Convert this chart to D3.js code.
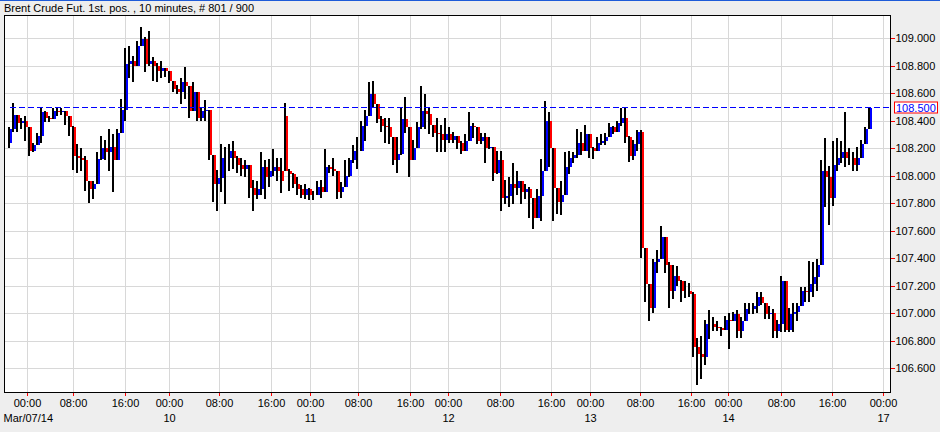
<!DOCTYPE html>
<html><head><meta charset="utf-8">
<script src="https://cdn.jsdelivr.net/npm/d3@7"></script>
<style>
html,body{margin:0;padding:0;background:#eeeeee;}
svg{display:block;font-family:"Liberation Sans",Arial,sans-serif;}
</style></head><body>
<svg id="c" width="940" height="432"></svg>
<script>
const title = "Brent Crude Fut. 1st. pos. , 10 minutes, # 801 / 900";

const openP = [
108.25,108.35,108.45,108.39,108.41,108.36,108.19,108.23,108.30,108.47,
108.43,108.42,108.48,108.47,108.48,108.44,108.36,108.15,108.14,108.12,
107.97,107.91,107.95,108.13,108.21,108.18,108.22,108.12,108.32,108.49,
108.82,108.84,108.81,108.95,109.00,108.82,108.84,108.81,108.77,108.79,
108.77,108.70,108.64,108.62,108.69,108.66,108.48,108.62,108.43,108.48,
108.49,108.16,107.95,107.99,108.14,108.14,108.19,108.14,108.09,108.06,
108.09,107.92,107.87,107.91,108.07,108.00,108.04,108.07,108.04,108.44,
108.04,108.02,107.95,107.91,107.87,107.91,107.87,107.87,107.93,107.89,
108.07,108.06,108.04,107.89,107.93,108.01,108.12,108.19,108.19,108.37,
108.44,108.60,108.53,108.42,108.37,108.36,108.29,108.12,108.17,108.42,
108.36,108.12,108.21,108.36,108.48,108.46,108.38,108.32,108.31,108.27,
108.31,108.27,108.30,108.25,108.19,108.26,108.37,108.36,108.26,108.29,
108.21,108.22,108.03,108.12,107.85,107.86,107.95,107.92,107.97,107.89,
107.91,107.85,107.70,107.86,108.04,108.41,108.21,107.92,107.82,107.87,
108.07,108.14,108.16,108.25,108.19,108.31,108.21,108.19,108.25,108.26,
108.29,108.36,108.33,108.39,108.43,108.29,108.15,108.24,108.33,107.48,
107.22,107.05,107.38,107.40,107.56,107.36,107.17,107.28,107.24,107.17,
107.17,107.15,106.76,106.71,106.69,106.93,106.93,106.91,106.90,106.89,
106.96,106.95,107.00,106.88,106.95,107.04,107.04,107.06,107.13,107.08,
107.00,107.01,106.88,106.93,107.24,106.89,107.00,107.02,107.06,107.17,
107.16,107.22,107.27,107.36,108.04,108.00,107.85,108.09,108.14,108.18,
108.14,108.14,108.09,108.14,108.24,108.35
];
const highP = [
108.36,108.54,108.44,108.43,108.44,108.30,108.25,108.32,108.50,108.48,
108.44,108.50,108.50,108.50,108.48,108.41,108.37,108.24,108.21,108.15,
107.97,107.97,108.18,108.30,108.27,108.35,108.31,108.35,108.57,108.94,
108.95,108.88,108.99,109.09,109.02,109.06,108.87,108.83,108.84,108.78,
108.77,108.69,108.67,108.72,108.80,108.59,108.69,108.55,108.50,108.56,
108.49,108.16,108.05,108.24,108.22,108.24,108.26,108.15,108.14,108.12,
108.07,107.98,107.97,108.18,108.12,108.13,108.20,108.14,108.14,108.54,
108.06,108.03,108.00,107.94,107.95,107.92,107.90,107.97,107.98,108.20,
108.09,108.14,108.04,107.96,108.12,108.14,108.23,108.29,108.41,108.49,
108.69,108.70,108.52,108.44,108.43,108.43,108.21,108.29,108.50,108.58,
108.36,108.27,108.40,108.66,108.60,108.50,108.38,108.43,108.38,108.43,
108.36,108.33,108.29,108.26,108.31,108.47,108.39,108.32,108.32,108.32,
108.29,108.09,108.19,108.19,107.98,108.00,108.10,108.04,107.97,107.95,
107.93,107.78,107.91,108.13,108.55,108.47,108.21,107.92,107.97,108.18,
108.19,108.18,108.35,108.33,108.38,108.29,108.22,108.29,108.31,108.32,
108.39,108.37,108.41,108.50,108.51,108.30,108.27,108.34,108.34,107.47,
107.17,107.40,107.47,107.64,107.48,107.38,107.36,107.35,107.25,107.24,
107.23,107.16,106.83,106.84,106.96,107.03,106.98,106.95,106.91,106.99,
107.01,107.02,107.03,106.98,107.08,107.08,107.08,107.16,107.16,107.08,
107.06,107.04,106.96,107.28,107.24,107.05,107.08,107.08,107.20,107.20,
107.39,107.38,107.40,108.12,108.28,108.08,108.26,108.28,108.26,108.47,
108.21,108.18,108.22,108.27,108.36,108.50
];
const lowP = [
108.21,108.33,108.33,108.35,108.26,108.15,108.18,108.23,108.25,108.40,
108.40,108.44,108.44,108.45,108.38,108.30,108.05,108.03,108.04,107.90,
107.81,107.84,107.98,108.12,108.12,108.04,107.89,108.28,108.32,108.41,
108.72,108.69,108.82,108.95,108.76,108.81,108.70,108.69,108.72,108.73,
108.68,108.62,108.60,108.53,108.57,108.43,108.50,108.41,108.41,108.41,
108.12,107.82,107.75,107.89,107.80,108.04,108.06,108.03,108.01,108.00,
107.85,107.75,107.84,107.87,107.84,107.93,108.01,107.97,107.88,108.04,
107.90,107.92,107.87,107.85,107.84,107.83,107.83,107.88,107.85,107.95,
108.03,108.01,107.84,107.85,107.94,108.00,108.10,108.06,108.21,108.26,
108.45,108.50,108.39,108.33,108.25,108.24,108.09,108.03,108.16,108.32,
108.00,108.12,108.26,108.35,108.35,108.31,108.29,108.18,108.18,108.18,
108.25,108.25,108.20,108.17,108.20,108.33,108.28,108.24,108.24,108.10,
108.20,107.97,108.02,107.75,107.80,107.78,107.80,107.87,107.80,107.84,
107.70,107.62,107.73,107.68,108.10,108.07,107.68,107.73,107.72,107.87,
108.02,108.10,108.14,108.16,108.23,108.14,108.13,108.22,108.23,108.23,
108.29,108.31,108.35,108.37,108.25,108.11,108.12,108.19,107.41,107.09,
106.95,107.01,107.30,107.41,107.30,107.05,107.11,107.21,107.09,107.12,
107.13,106.69,106.49,106.53,106.63,106.82,106.88,106.88,106.84,106.90,
106.75,106.95,106.83,106.83,106.97,107.00,107.00,107.01,107.07,106.97,
106.97,106.83,106.83,106.87,106.87,106.87,106.87,106.95,107.06,107.09,
107.09,107.13,107.17,107.45,107.78,107.65,107.79,108.04,108.10,108.07,
108.09,108.04,108.04,108.18,108.26,108.38
];
const closeP = [
108.35,108.45,108.39,108.41,108.36,108.19,108.23,108.30,108.47,108.43,
108.42,108.48,108.47,108.48,108.44,108.36,108.15,108.14,108.12,107.97,
107.91,107.95,108.13,108.21,108.18,108.22,108.12,108.32,108.49,108.82,
108.84,108.81,108.95,109.00,108.82,108.84,108.81,108.77,108.79,108.77,
108.70,108.64,108.62,108.69,108.66,108.48,108.62,108.43,108.48,108.49,
108.16,107.95,107.99,108.14,108.14,108.19,108.14,108.09,108.06,108.09,
107.92,107.87,107.91,108.07,108.00,108.04,108.07,108.04,107.97,108.04,
108.02,107.95,107.91,107.87,107.91,107.87,107.87,107.93,107.89,108.07,
108.06,108.04,107.89,107.93,108.01,108.12,108.19,108.19,108.37,108.44,
108.60,108.53,108.42,108.37,108.36,108.29,108.12,108.17,108.42,108.36,
108.12,108.21,108.36,108.48,108.46,108.38,108.32,108.31,108.27,108.31,
108.27,108.30,108.25,108.19,108.26,108.37,108.36,108.26,108.29,108.21,
108.22,108.03,108.12,107.85,107.86,107.95,107.92,107.97,107.89,107.91,
107.85,107.70,107.86,108.04,108.41,108.21,107.92,107.82,107.87,108.07,
108.14,108.16,108.25,108.19,108.31,108.21,108.19,108.25,108.26,108.29,
108.36,108.33,108.39,108.43,108.29,108.15,108.24,108.33,107.48,107.22,
107.05,107.38,107.40,107.56,107.36,107.17,107.28,107.24,107.17,107.17,
107.15,106.76,106.71,106.69,106.93,106.93,106.91,106.90,106.89,106.96,
106.95,107.00,106.88,106.95,107.04,107.04,107.06,107.13,107.08,107.00,
107.01,106.88,106.93,107.24,106.89,107.00,107.02,107.06,107.17,107.16,
107.22,107.27,107.36,108.04,108.00,107.85,108.09,108.14,108.18,108.14,
108.14,108.09,108.14,108.24,108.35,108.50
];

// x-axis ticks, positioned in bar-index units
const timeTickIndex = [4.58,16,29.08,39.93,52.58,65.38,75.13,87.13,100.18,109.83,122.68,135.58,145.25,157.68,170.58,179.83,192.88,205.63,218.58];
const timeTickLabels = ["00:00","08:00","16:00","00:00","08:00","16:00","00:00","08:00","16:00","00:00","08:00","16:00","00:00","08:00","16:00","00:00","08:00","16:00","00:00"];
const dateTickPos = [3,6,9,12,15,18];
const dateTickLabels = ["10","11","12","13","14","17"];
const firstDateLabel = "Mar/07/14";
const priceTicks = [106.6,106.8,107.0,107.2,107.4,107.6,107.8,108.0,108.2,108.4,108.6,108.8,109.0];
const lastPrice = 108.50;

const W = 940, H = 432;
const P = {l:4.5, r:890.5, t:15.5, b:392.5};
const N = closeP.length;
const svg = d3.select("#c");

svg.append("rect").attr("width",W).attr("height",H).attr("fill","#eeeeee");
svg.append("rect").attr("x",0).attr("y",0).attr("width",W).attr("height",1).attr("fill","#1e5bd8");
svg.append("text").attr("x",4).attr("y",12).attr("font-size","11px").attr("fill","#000").text(title);

const x = d3.scaleLinear().domain([0, N-1]).range([10, 870]);
const y = d3.scaleLinear().domain([106.4327, 109.1745]).range([392.5, 15.5]);

svg.append("rect").attr("x",P.l).attr("y",P.t).attr("width",P.r-P.l).attr("height",P.b-P.t).attr("fill","#ffffff");

const snap = v => Math.floor(v - 0.5) + 0.5;
const grid = svg.append("g").attr("stroke","#d8d8d8").attr("stroke-width",1);
grid.selectAll("line.h").data(priceTicks).join("line").attr("class","h")
  .attr("x1",P.l).attr("x2",P.r).attr("y1",d=>snap(y(d))).attr("y2",d=>snap(y(d)));
grid.selectAll("line.v").data(timeTickIndex).join("line").attr("class","v")
  .attr("y1",P.t).attr("y2",P.b).attr("x1",d=>snap(x(d))).attr("x2",d=>snap(x(d)));

const bars = d3.range(N).map(i => ({i, o:openP[i], h:highP[i], l:lowP[i], c:closeP[i]}));
const g = svg.append("g").attr("shape-rendering","crispEdges");
g.selectAll("rect.w").data(bars).join("rect").attr("class","w")
  .attr("x", d => Math.round(x(d.i)) - 2).attr("width", 2)
  .attr("y", d => y(Math.max(d.h, d.o, d.c)))
  .attr("height", d => Math.max(1, y(Math.min(d.l, d.o, d.c)) - y(Math.max(d.h, d.o, d.c))))
  .attr("fill", "#000");
g.selectAll("rect.b").data(bars.filter(d => d.o !== d.c)).join("rect").attr("class","b")
  .attr("x", d => Math.round(x(d.i))).attr("width", 2)
  .attr("y", d => y(Math.max(d.o, d.c)))
  .attr("height", d => Math.max(1, Math.abs(y(d.o) - y(d.c))))
  .attr("fill", d => d.c > d.o ? "#0000ff" : "#ff0000");

// last price dashed line
svg.append("line").attr("x1",x(0)).attr("x2",P.r).attr("y1",snap(y(lastPrice))).attr("y2",snap(y(lastPrice)))
  .attr("stroke","#0000ff").attr("stroke-width",1).attr("stroke-dasharray","6,3");

// border
svg.append("rect").attr("x",P.l).attr("y",P.t).attr("width",P.r-P.l).attr("height",P.b-P.t)
  .attr("fill","none").attr("stroke","#000").attr("stroke-width",1);

// right axis
const ya = svg.append("g").attr("transform",`translate(${P.r},0)`)
  .call(d3.axisRight(y).tickValues(priceTicks).tickSize(4).tickPadding(1).tickFormat(d3.format(".3f")));
ya.select(".domain").remove();
ya.selectAll(".tick line").attr("stroke","#ff0000").attr("shape-rendering","crispEdges");
ya.selectAll(".tick").attr("transform", d => `translate(0,${snap(y(d))})`);
ya.selectAll(".tick text").attr("font-size","11px").attr("font-family","Liberation Sans, Arial, sans-serif").attr("fill","#000").attr("dy","0.36em").attr("x",5);

// last price label
const ly = snap(y(lastPrice));
svg.append("rect").attr("x",894.5).attr("y",ly-5.5).attr("width",43).attr("height",11)
  .attr("fill","#ffffff").attr("stroke","#ff0000").attr("stroke-width",1);
svg.append("text").attr("x",896).attr("y",ly+4).attr("font-size","11px").attr("fill","#0000ff").text(d3.format(".3f")(lastPrice));

// bottom axis
const xa = svg.append("g").attr("transform",`translate(0,${P.b})`)
  .call(d3.axisBottom(x).tickValues(timeTickIndex).tickSize(3.5).tickPadding(3).tickFormat((d,i)=>timeTickLabels[i]));
xa.select(".domain").remove();
xa.selectAll(".tick").attr("transform", d => `translate(${snap(x(d))},0)`);
xa.selectAll(".tick line").attr("stroke","#ff0000").attr("shape-rendering","crispEdges");
xa.selectAll(".tick text").attr("font-size","11px").attr("font-family","Liberation Sans, Arial, sans-serif").attr("fill","#000").attr("dy",null).attr("y",14.5);

svg.append("text").attr("x",3.5).attr("y",421.5).attr("font-size","11px").attr("fill","#000").text(firstDateLabel);
svg.selectAll("text.date").data(dateTickPos).join("text").attr("class","date")
  .attr("x", d => snap(x(timeTickIndex[d]))).attr("y",421.5).attr("text-anchor","middle")
  .attr("font-size","11px").attr("fill","#000").text((d,i)=>dateTickLabels[i]);
</script>
</body></html>
